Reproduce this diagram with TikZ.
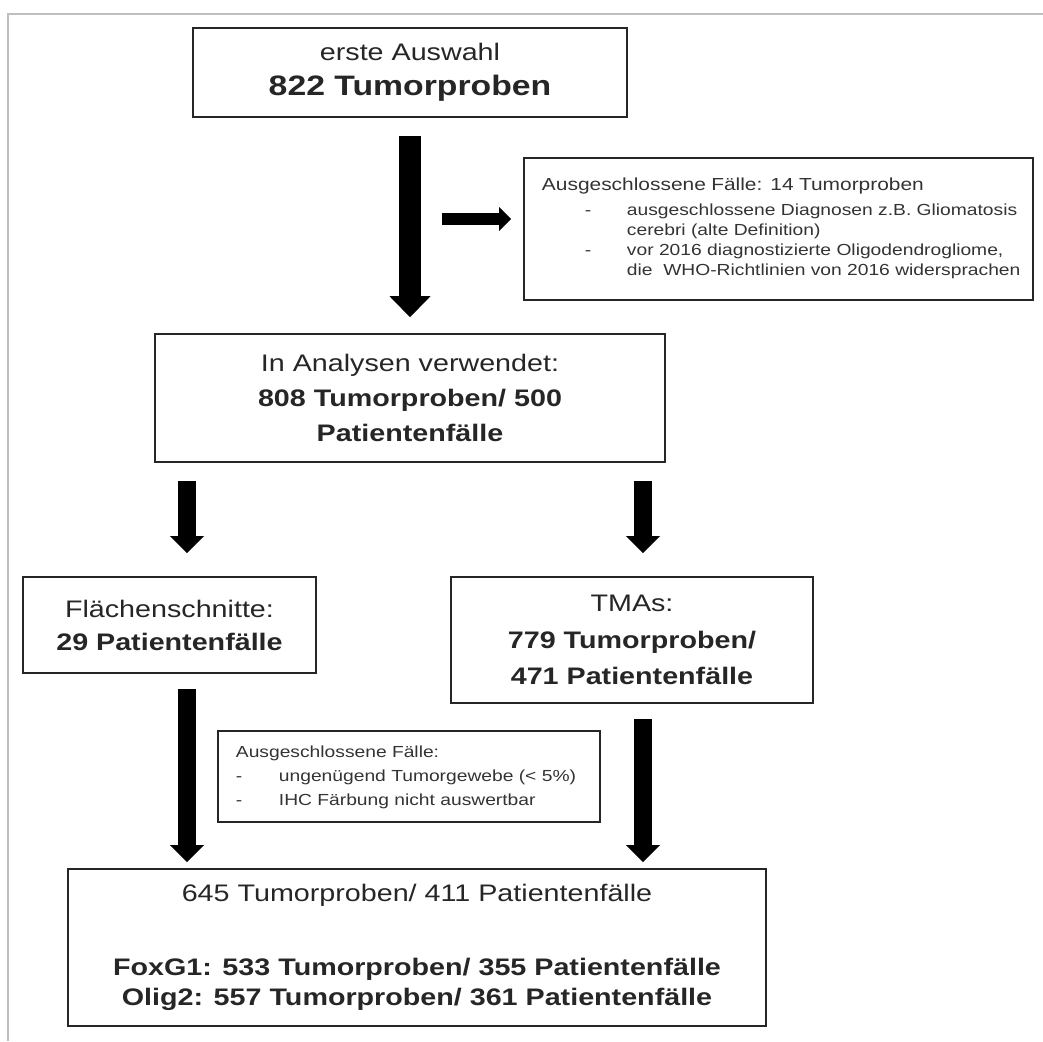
\documentclass[tikz,border=0pt]{standalone}
\usepackage{fontspec}
\setmainfont{Liberation Sans}[FakeStretch=1.2]
\usetikzlibrary{arrows.meta}
\tikzset{
    kasten/.style={draw=black!85, line width=1.1pt, inner sep=0pt, align=center,
        font=\fontsize{17}{25}\selectfont, text=black!85},
    hinweis/.style={draw=black!85, line width=1pt, inner xsep=0.45cm, inner ysep=0pt,
        align=left, text=black!80},
    pfeil/.style={line width=0.45cm, -{Triangle[width=0.85cm, length=0.43cm, line width=0pt]}},
    grosspfeil/.style={line width=0.55cm, -{Triangle[width=1.025cm, length=0.525cm, line width=0pt]}},
    seitpfeil/.style={line width=0.3cm, -{Triangle[width=0.6cm, length=0.3cm, line width=0pt]}}
}
\begin{document}
\begin{tikzpicture}[x=0.025cm, y=-0.025cm]
    \useasboundingbox (0,0) rectangle (1043,1041);
    \draw [black!25, line width=1.4pt] (8,1041) -- (8,14) -- (1043,14);

    \node [kasten, minimum width=10.85cm, minimum height=2.225cm] (erste) at (410,72.5)
        {erste Auswahl\\ {\fontsize{20}{25}\selectfont\textbf{822 Tumorproben}}};
    \node [hinweis, text width=11.825cm, minimum height=3.55cm,
        font=\fontsize{11.4}{14.2}\selectfont] (ausschluss) at (778.5,229)
        {\begin{tabular}{@{\hspace{1.075cm}}p{1.05cm}@{}l@{}}
            \multicolumn{2}{@{}l@{}}{\fontsize{12.4}{14.2}\selectfont Ausgeschlossene Fälle: 14 Tumorproben}\\[3.6pt]
            -&ausgeschlossene Diagnosen z.B. Gliomatosis\\
            &cerebri (alte Definition)\\
            -&vor 2016 diagnostizierte Oligodendrogliome,\\
            &die\ \ WHO-Richtlinien von 2016 widersprachen
        \end{tabular}};
    \node [kasten, minimum width=12.75cm, minimum height=3.2cm] (analyse) at (410,398)
        {In Analysen verwendet:\\ \textbf{808 Tumorproben/ 500}\\ \textbf{Patientenfälle}};
    \node [kasten, minimum width=7.325cm, minimum height=2.4cm,
        font=\fontsize{17}{23.5}\selectfont] (flaechen) at (169.5,625)
        {Flächenschnitte:\\ \textbf{29 Patientenfälle}};
    \node [kasten, minimum width=9.05cm, minimum height=3.15cm,
        font=\fontsize{17}{26}\selectfont] (tma) at (632,640)
        {TMAs:\\ \textbf{779 Tumorproben/}\\ \textbf{471 Patientenfälle}};
    \node [hinweis, text width=8.65cm, minimum height=2.275cm,
        font=\fontsize{11.4}{17}\selectfont] (ausschluss2) at (409,776.5)
        {\begin{tabular}{@{}p{1.075cm}@{}l@{}}
            \multicolumn{2}{@{}l@{}}{Ausgeschlossene Fälle:}\\
            -&ungenügend Tumorgewebe (< 5\%)\\
            -&IHC Färbung nicht auswertbar
        \end{tabular}};
    \node [kasten, minimum width=17.45cm, minimum height=3.925cm,
        font=\fontsize{17}{21.3}\selectfont] (auswahl) at (417,947.5)
        {645 Tumorproben/ 411 Patientenfälle\\[31.3pt]
        \textbf{FoxG1: 533 Tumorproben/ 355 Patientenfälle}\\
        \textbf{Olig2: 557 Tumorproben/ 361 Patientenfälle}};

    \draw [grosspfeil, shorten <=0.45cm, shorten >=0.4cm] (erste.south) -- (analyse.north);
    \coordinate (abzweig) at (442,219);
    \draw [seitpfeil, shorten >=0.3cm] (abzweig) -- (abzweig -| ausschluss.west);

    \coordinate (links) at (187,0);
    \coordinate (rechts) at (643,0);
    \foreach \k/\s in {flaechen/links, tma/rechts}
    {
        \draw [pfeil, shorten <=0.45cm, shorten >=0.575cm] (analyse.south -| \s) -- (\k.north -| \s);
        \draw [pfeil, shorten <=0.375cm, shorten >=0.15cm] (\k.south -| \s) -- (auswahl.north -| \s);
    }
\end{tikzpicture}
\end{document}
